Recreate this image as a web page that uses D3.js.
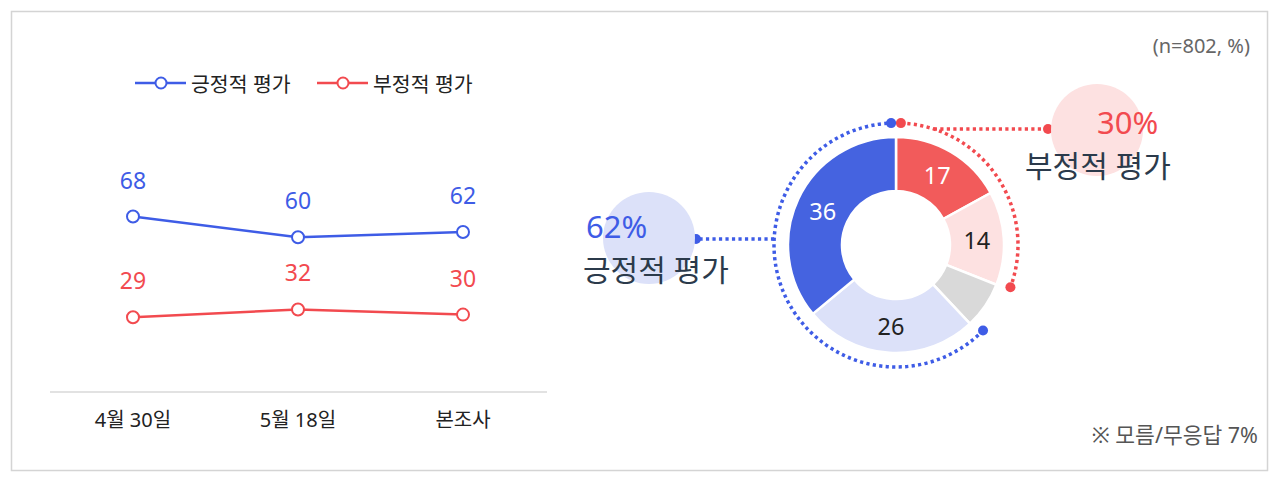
<!DOCTYPE html>
<html>
<head>
<meta charset="utf-8">
<script src="https://cdn.jsdelivr.net/npm/d3@7"></script>
<style>
  html, body { margin: 0; padding: 0; background: #fff; }
  svg { display: block; font-family: "Noto Sans", "Noto Sans CJK KR", sans-serif; }
</style>
</head>
<body>
<div id="chart"></div>
<script>
// trend data
const dates = ["4월 30일", "5월 18일", "본조사"];
const seriesNames = ["긍정적 평가", "부정적 평가"];
const positive = [68, 60, 62];
const negative = [29, 32, 30];

// current survey breakdown, clockwise from 12 o'clock
const sliceKeys = ["매우 잘못함", "잘못하는 편", "모름/무응답", "잘하는 편", "매우 잘함"];
const sliceValues = [17, 14, 7, 26, 36];
const sliceShown = [true, true, false, true, true];

// totals shown in the callouts
const totalNames = ["긍정적 평가", "부정적 평가"];
const totalValues = [62, 30];
const dontKnow = 7;
const sampleNote = "(n=802, %)";

const width = 1280;
const height = 480;

const blue = "#3e5ce6";
const red = "#f24a4f";
const dark = "#2b3a4b";

const svg = d3
  .select("#chart")
  .append("svg")
  .attr("width", width)
  .attr("height", height);

// outer frame
svg
  .append("rect")
  .attr("x", 11.5)
  .attr("y", 11.5)
  .attr("width", 1256)
  .attr("height", 459)
  .attr("fill", "#fff")
  .attr("stroke", "#d4d4d4")
  .attr("stroke-width", 1.5);

/////////////////
// line chart //
/////////////////
const x = d3.scalePoint().domain(dates).range([133, 463]);
const y = d3.scaleLinear().domain([0, 100]).range([392, 134]);

const left = svg.append("g");

left
  .append("line")
  .attr("x1", 50)
  .attr("x2", 547)
  .attr("y1", y(0))
  .attr("y2", y(0))
  .attr("stroke", "#d9d9d9")
  .attr("stroke-width", 1.5);

left
  .selectAll("text.xlabel")
  .data(dates)
  .join("text")
  .attr("class", "xlabel")
  .attr("x", (d) => x(d))
  .attr("y", 427)
  .attr("text-anchor", "middle")
  .attr("font-size", 20)
  .attr("fill", "#222")
  .text((d) => d);

const series = [
  { name: seriesNames[0], values: positive, color: blue },
  { name: seriesNames[1], values: negative, color: red },
];

const line = d3
  .line()
  .x((d, i) => x(dates[i]))
  .y((d) => y(d));

series.forEach((s) => {
  const g = left.append("g");
  g.append("path")
    .attr("d", line(s.values))
    .attr("fill", "none")
    .attr("stroke", s.color)
    .attr("stroke-width", 2.5);

  g.selectAll("circle")
    .data(s.values)
    .join("circle")
    .attr("cx", (d, i) => x(dates[i]))
    .attr("cy", (d) => y(d))
    .attr("r", 6)
    .attr("fill", "#fff")
    .attr("stroke", s.color)
    .attr("stroke-width", 2);

  g.selectAll("text")
    .data(s.values)
    .join("text")
    .attr("x", (d, i) => x(dates[i]))
    .attr("y", (d) => y(d) - 28)
    .attr("text-anchor", "middle")
    .attr("font-size", 23)
    .attr("fill", s.color)
    .text((d) => d);
});

// legend
const legendX = [135, 317];
series.forEach((s, i) => {
  const g = left.append("g").attr("transform", `translate(${legendX[i]},83)`);
  g.append("line")
    .attr("x1", 0)
    .attr("x2", 51)
    .attr("stroke", s.color)
    .attr("stroke-width", 2.5);
  g.append("circle")
    .attr("cx", 26)
    .attr("r", 5.5)
    .attr("fill", "#fff")
    .attr("stroke", s.color)
    .attr("stroke-width", 2);
  g.append("text")
    .attr("x", 56)
    .attr("y", 3)
    .attr("dominant-baseline", "middle")
    .attr("font-size", 20.5)
    .attr("fill", "#222")
    .text(s.name);
});

////////////
// donut //
////////////
const cx = 896;
const cy = 245;
const innerR = 54;
const outerR = 108;
const ringR = 122;

const sliceColors = d3
  .scaleOrdinal()
  .domain(sliceKeys)
  .range(["#f25b5b", "#fde1e1", "#d9d9d9", "#dce1f9", "#4563e0"]);
const sliceText = ["#fff", "#222", "#222", "#222", "#fff"];

const pie = d3.pie().sort(null).value((d) => d.value);
const slices = pie(sliceKeys.map((k, i) => ({ key: k, value: sliceValues[i], i })));

const arc = d3.arc().innerRadius(innerR).outerRadius(outerR);

const donut = svg.append("g").attr("transform", `translate(${cx},${cy})`);

donut
  .selectAll("path")
  .data(slices)
  .join("path")
  .attr("d", arc)
  .attr("fill", (d) => sliceColors(d.data.key))
  .attr("stroke", "#fff")
  .attr("stroke-width", 2.5);

donut
  .selectAll("text")
  .data(slices.filter((d) => sliceShown[d.data.i]))
  .join("text")
  .attr("transform", (d) => `translate(${arc.centroid(d)})`)
  .attr("text-anchor", "middle")
  .attr("dominant-baseline", "central")
  .attr("font-size", 23.5)
  .attr("fill", (d) => sliceText[d.data.i])
  .text((d) => d.data.value);

// dotted rings for the totals (angles from 12 o'clock, clockwise)
const deg = Math.PI / 180;
const gap = 2.3 * deg;
const toXY = (a, r) => [Math.sin(a) * r, -Math.cos(a) * r];

function dottedArc(a0, a1, color) {
  const p = d3.path();
  const s = toXY(a0, ringR);
  p.moveTo(s[0], s[1]);
  p.arc(0, 0, ringR, a0 - Math.PI / 2, a1 - Math.PI / 2, false);
  donut
    .append("path")
    .attr("d", p.toString())
    .attr("fill", "none")
    .attr("stroke", color)
    .attr("stroke-width", 3.5)
    .attr("stroke-dasharray", "3.2 3.3");
  [a0, a1].forEach((a) => {
    const e = toXY(a, ringR);
    donut
      .append("circle")
      .attr("cx", e[0])
      .attr("cy", e[1])
      .attr("r", 5)
      .attr("fill", color);
  });
}

const negSpan = (totalValues[1] / 100) * 2 * Math.PI;
const posSpan = (totalValues[0] / 100) * 2 * Math.PI;
dottedArc(gap, gap + negSpan, red);
dottedArc(2 * Math.PI - gap - posSpan, 2 * Math.PI - gap, blue);

// leaders
function leader(yy, x2, color, side) {
  const dx = Math.sqrt(ringR * ringR - yy * yy) * side;
  donut
    .append("line")
    .attr("x1", dx)
    .attr("y1", yy)
    .attr("x2", x2 - cx)
    .attr("y2", yy)
    .attr("stroke", color)
    .attr("stroke-width", 3.5)
    .attr("stroke-dasharray", "3.2 3.3");
  donut
    .append("circle")
    .attr("cx", x2 - cx)
    .attr("cy", yy)
    .attr("r", 5)
    .attr("fill", color);
}

// callout bubbles
const callouts = svg.append("g");
callouts
  .append("circle")
  .attr("cx", 649)
  .attr("cy", 238)
  .attr("r", 46)
  .attr("fill", "#dce1f9");
callouts
  .append("circle")
  .attr("cx", 1097)
  .attr("cy", 130)
  .attr("r", 46)
  .attr("fill", "#fde1e1");

leader(239 - cy, 696, blue, -1);
leader(129 - cy, 1048, red, 1);

callouts
  .append("text")
  .attr("x", 586)
  .attr("y", 238)
  .attr("font-size", 31)
  .attr("fill", blue)
  .text(totalValues[0] + "%");
callouts
  .append("text")
  .attr("x", 583)
  .attr("y", 281)
  .attr("font-size", 30)
  .attr("fill", dark)
  .text(totalNames[0]);

callouts
  .append("text")
  .attr("x", 1097)
  .attr("y", 134)
  .attr("font-size", 31)
  .attr("fill", red)
  .text(totalValues[1] + "%");
callouts
  .append("text")
  .attr("x", 1025)
  .attr("y", 177)
  .attr("font-size", 30)
  .attr("fill", dark)
  .text(totalNames[1]);

// notes
svg
  .append("text")
  .attr("x", 1250)
  .attr("y", 53)
  .attr("text-anchor", "end")
  .attr("font-size", 20)
  .attr("fill", "#666")
  .text(sampleNote);

svg
  .append("text")
  .attr("x", 1258)
  .attr("y", 443)
  .attr("text-anchor", "end")
  .attr("font-size", 21.5)
  .attr("fill", "#555")
  .text(`※ 모름/무응답 ${dontKnow}%`);
</script>
</body>
</html>
